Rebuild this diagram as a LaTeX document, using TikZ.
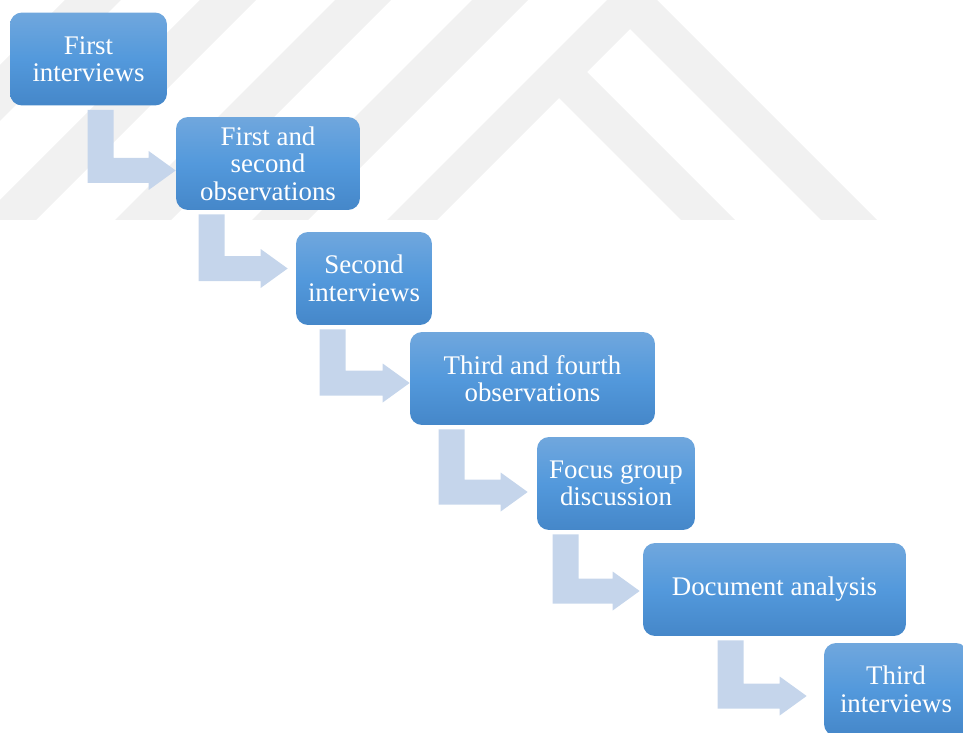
\documentclass[tikz,border=0pt]{standalone}
\usepackage{fontspec}
\setmainfont{Liberation Serif}
\usetikzlibrary{positioning, calc}
\definecolor{boxtop}{HTML}{70A7DD}
\definecolor{boxmid}{HTML}{5399DC}
\definecolor{boxbot}{HTML}{4587C9}
\definecolor{arw}{HTML}{C5D5EB}
\definecolor{wmark}{HTML}{F1F1F1}
\tikzset{
  stepbox/.style={rectangle, rounded corners=0.24cm, top color=boxtop, bottom color=boxbot,
    middle color=boxmid, text=white, align=center, inner sep=0pt, minimum height=1.86cm,
    font=\fontsize{15.3}{15.6}\selectfont},
  stepfill/.style={fill=arw},
  band/.style={fill=wmark},
}
% #1 from, #2 to, #3 stem offset from left edge, #4 tip shift
\newcommand{\steparrow}[4]{%
  \coordinate (tip) at ($(#2.west)+(#4)$);
  \coordinate (top) at ($(#1.south west)+(#3,4)$);
  \fill[stepfill] (top) -- ++(26,0) |- ($(tip)+(-27,-12.5)$) -- ++(0,-7) -- (tip)
    -- ++(-27,19.5) -- ++(0,-7) -| (top) -- cycle;
}

\begin{document}
\begin{tikzpicture}[x=0.02cm, y=-0.02cm]
  \useasboundingbox (0,0) rectangle (963,733);
  \begin{scope}
    \clip (0,0) rectangle (963,220);
    \foreach \b in {-155,-20,115,252}
      \fill[band] (\b,220) -- (\b+220,0) -- (\b+276,0) -- (\b+56,220) -- cycle;
    \fill[band] (387,220) -- (632,-25) -- (877,220) -- (821,220) -- (630,29) -- (587,72)
      -- (735,220) -- (681,220) -- (559,98) -- (437,220) -- cycle;
  \end{scope}

  \node[stepbox, minimum width=3.14cm] (first) at (88.5,59) {First\\interviews};
  \node[stepbox, minimum width=3.68cm] (obs12) at (268,163.5) {First and\\second\\observations};
  \node[stepbox, minimum width=2.72cm] (second) at (364,278.5) {Second\\interviews};
  \node[stepbox, minimum width=4.9cm] (obs34) at (532.5,378.5) {Third and fourth\\observations};
  \node[stepbox, minimum width=3.16cm] (focus) at (616,483.5) {Focus group\\discussion};
  \node[stepbox, minimum width=5.26cm] (docs) at (774.5,589.5) {Document analysis};
  \node[stepbox, minimum width=2.88cm] (third) at (896,689.5) {Third\\interviews};

  \steparrow{first}{obs12}{78}{0,7}
  \steparrow{obs12}{second}{23}{-8,-10}
  \steparrow{second}{obs34}{24}{0,4.5}
  \steparrow{obs34}{focus}{29}{-9,8.5}
  \steparrow{focus}{docs}{16}{-3,1.5}
  \steparrow{docs}{third}{75}{-17,6.5}
\end{tikzpicture}
\end{document}
